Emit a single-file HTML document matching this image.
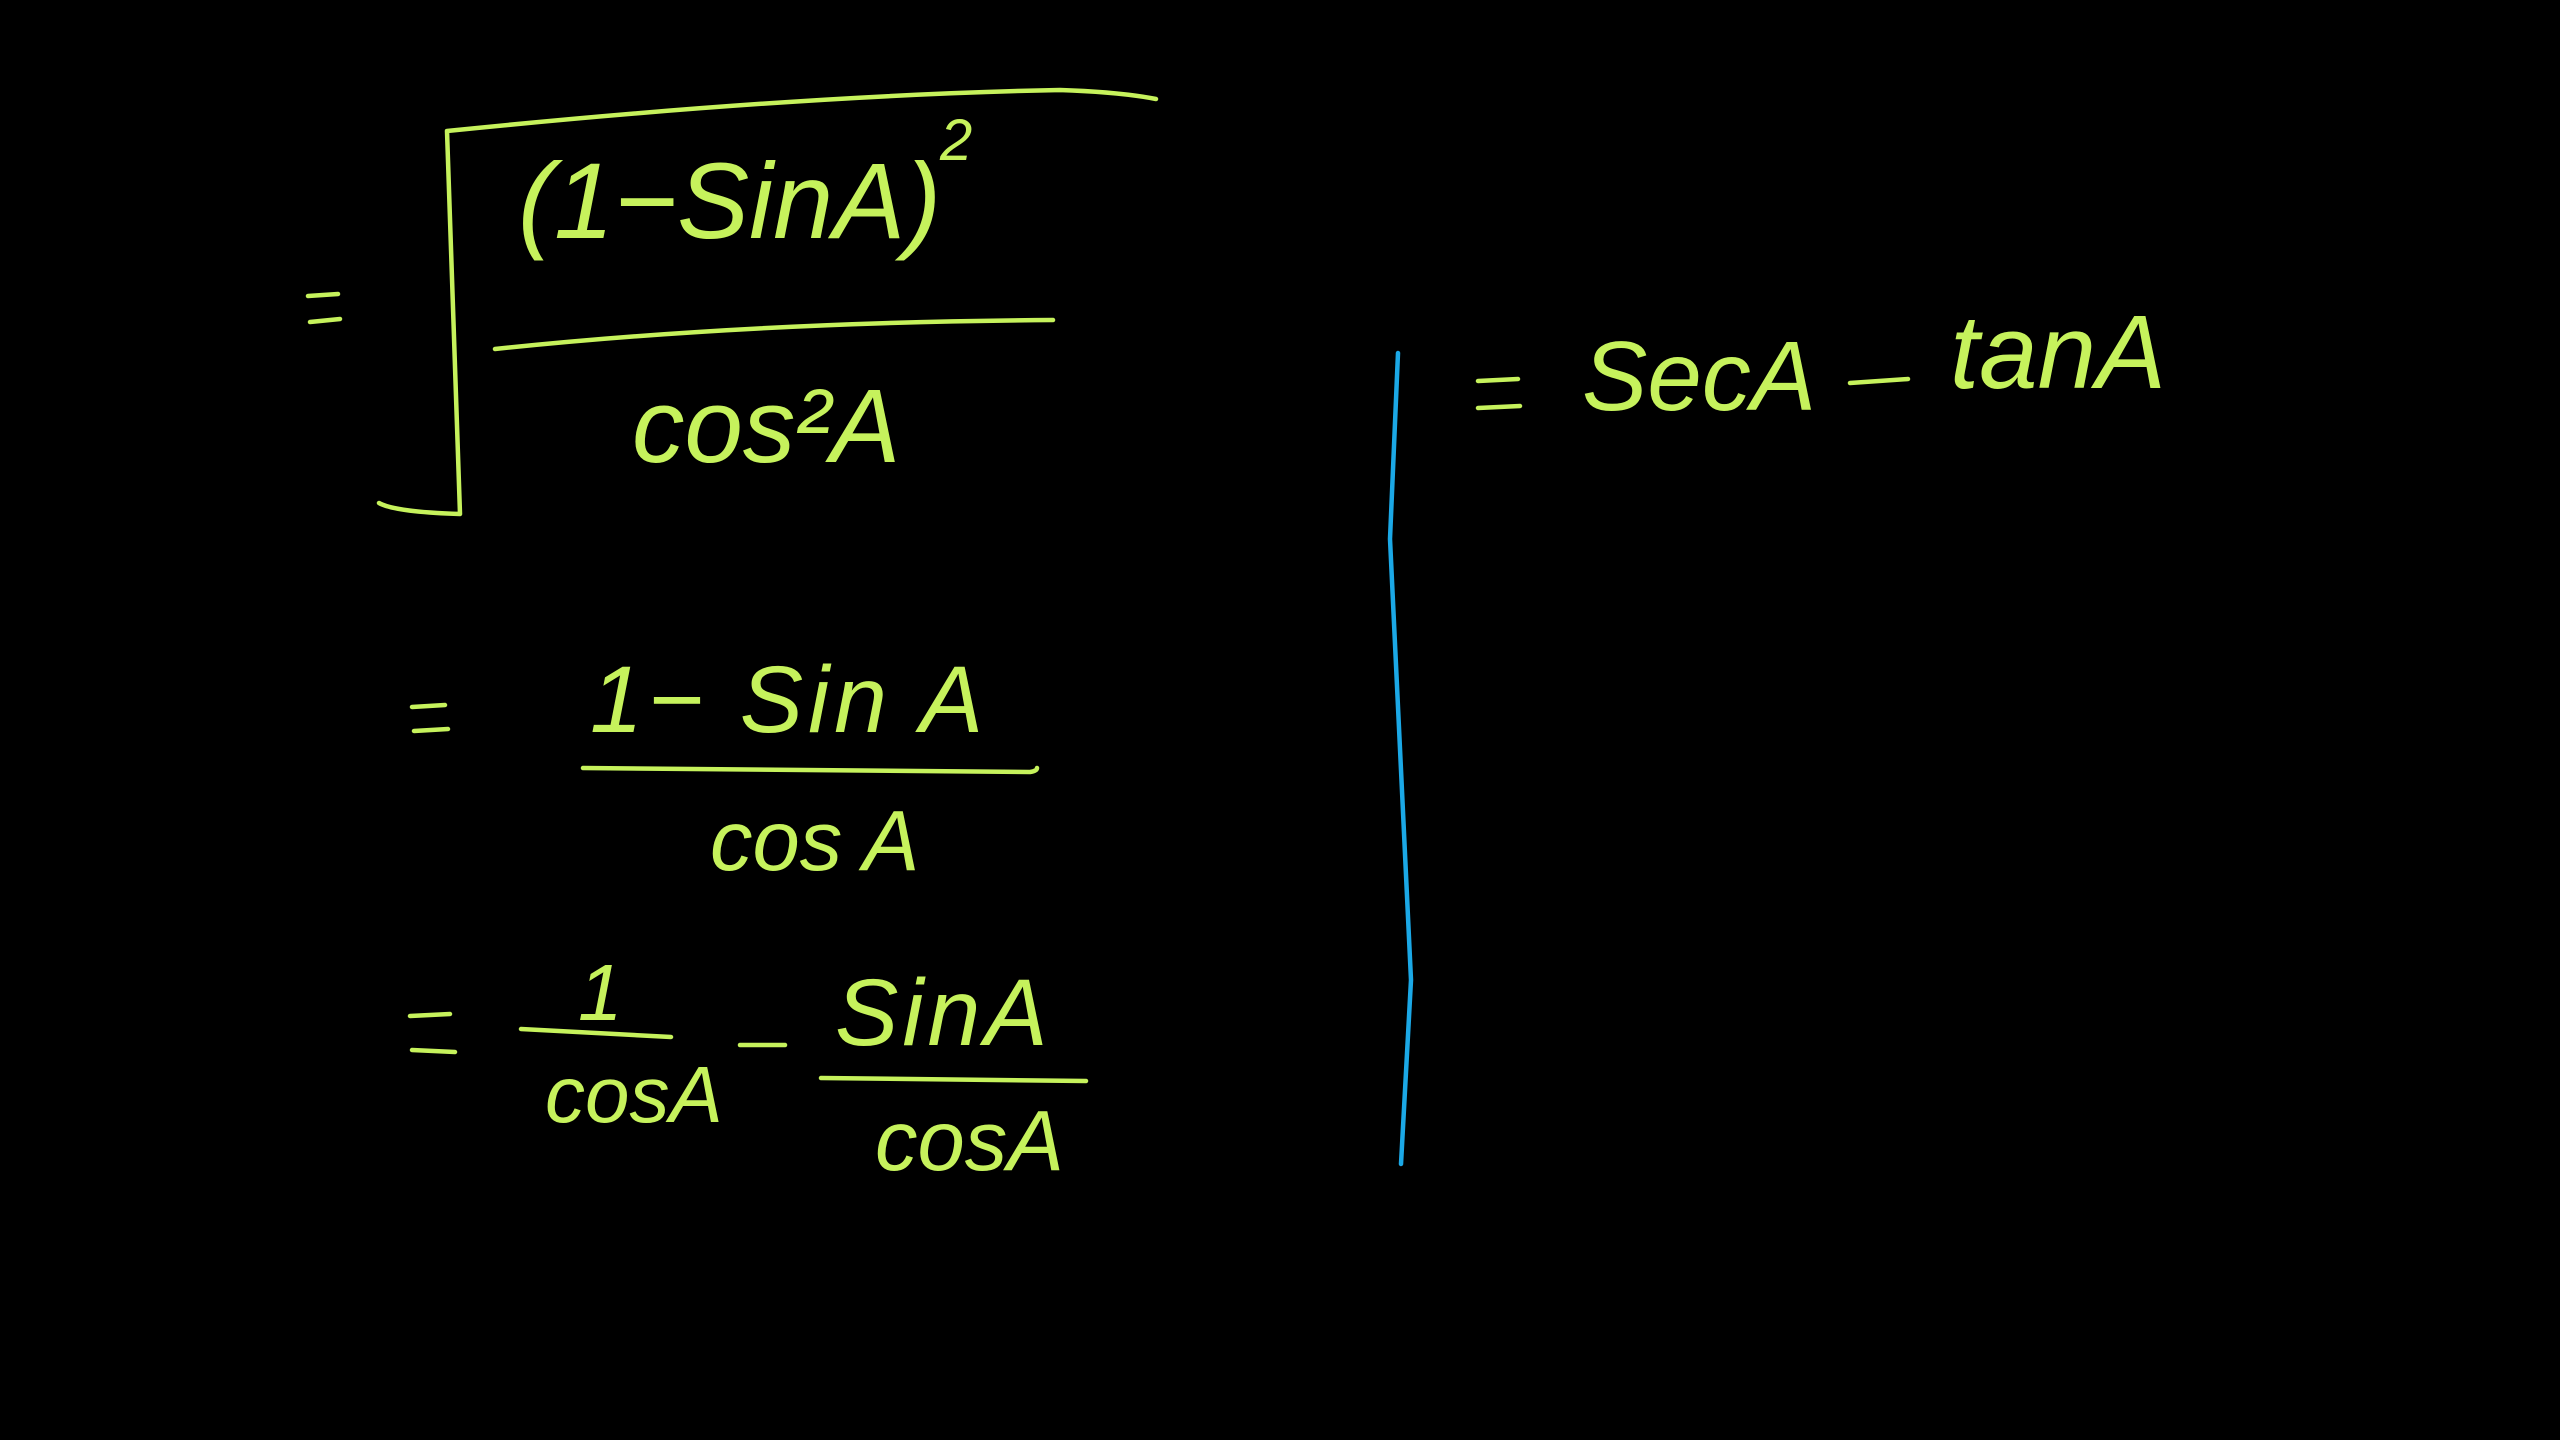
<!DOCTYPE html>
<html><head><meta charset="utf-8"><style>
html,body{margin:0;padding:0;background:#000;width:2560px;height:1440px;overflow:hidden}
svg{display:block}
text{font-family:"Liberation Sans",sans-serif;fill:#c6f25c}
</style></head><body>
<svg width="2560" height="1440" viewBox="0 0 2560 1440" xmlns="http://www.w3.org/2000/svg">
<g fill="none" stroke="#c6f25c" stroke-width="4.5" stroke-linecap="round" stroke-linejoin="round">
<path d="M379,503 Q395,512 460,514 L447,131 Q800,95 1060,90 Q1120,92 1156,99"/>
<path d="M495,349 Q750,322 1053,320"/>
<path d="M583,768 L1030,772 Q1037,771 1037,768"/>
<path d="M521,1029 L671,1037"/>
<path d="M821,1078 L1086,1081"/>
<path d="M308,296 L338,294 M310,322 L340,319"/>
<path d="M412,707 L445,705 M414,731 L448,729"/>
<path d="M410,1016 L450,1014 M412,1050 L455,1052"/>
<path d="M1478,381 L1518,379 M1478,408 L1520,406"/>
<path d="M740,1045 L785,1045"/>
<path d="M1850,383 L1908,379"/>
</g>
<path d="M1398,353 L1390,539 L1411,980 L1401,1164" fill="none" stroke="#1ba8e6" stroke-width="4.5" stroke-linecap="round"/>
<g font-style="italic">
<text x="518" y="238" font-size="108">(1−SinA)</text>
<text x="940" y="160" font-size="58">2</text>
<text x="632" y="462" font-size="105">cos²A</text>
<text x="590" y="732" font-size="95" letter-spacing="5">1− Sin A</text>
<text x="710" y="870" font-size="85">cos A</text>
<text x="578" y="1020" font-size="80">1</text>
<text x="545" y="1122" font-size="80">cosA</text>
<text x="835" y="1045" font-size="95" letter-spacing="4">SinA</text>
<text x="875" y="1170" font-size="85">cosA</text>
<text x="1582" y="410" font-size="98">SecA</text>
<text x="1950" y="388" font-size="105">tanA</text>
</g>
</svg>
</body></html>
